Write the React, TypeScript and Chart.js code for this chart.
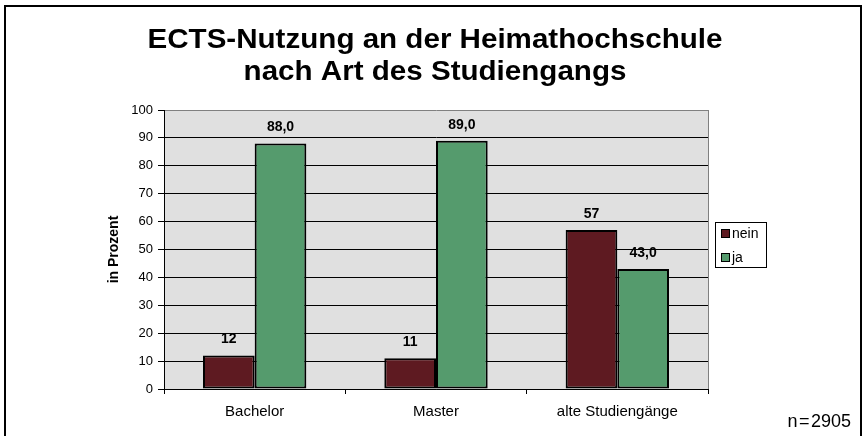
import React, { useEffect, useRef } from "react";
import { Chart, registerables } from "chart.js";

Chart.register(...registerables);

const categories = ["Bachelor", "Master", "alte Studiengänge"];
const seriesNames = ["nein", "ja"];
const neinValues = [12, 11, 57];
const jaValues = [88.0, 89.0, 43.0];
const seriesColors = ["#5e1a21", "#559b6d"];
const yTicks = [0, 10, 20, 30, 40, 50, 60, 70, 80, 90, 100];
const titleLines = ["ECTS-Nutzung an der Heimathochschule", "nach Art des Studiengangs"];
const yAxisTitle = "in Prozent";
const footnote = "n\u200A=\u200A2905";

const FONT = '"Liberation Sans", Arial, Helvetica, sans-serif';

export default function App() {
  const ref = useRef<HTMLCanvasElement | null>(null);

  useEffect(() => {
    const canvas = ref.current;
    if (!canvas) return;

    const decor = {
      id: "decor",
      beforeDraw(chart: any) {
        const { ctx, chartArea } = chart;
        ctx.save();
        ctx.fillStyle = "#ffffff";
        ctx.fillRect(0, 0, chart.width, chart.height);
        // outer frame
        ctx.strokeStyle = "#000";
        ctx.lineWidth = 2;
        ctx.strokeRect(5, 6, 856, 440);
        // plot background
        ctx.fillStyle = "#e0e0e0";
        ctx.fillRect(chartArea.left, chartArea.top, chartArea.right - chartArea.left, chartArea.bottom - chartArea.top);
        ctx.restore();
      },
      afterDraw(chart: any) {
        const { ctx, chartArea } = chart;
        ctx.save();
        // right plot border
        ctx.strokeStyle = "#808080";
        ctx.lineWidth = 1;
        ctx.beginPath();
        ctx.moveTo(Math.round(chartArea.right) + 0.5, chartArea.top);
        ctx.lineTo(Math.round(chartArea.right) + 0.5, chartArea.bottom);
        ctx.stroke();
        // title (slightly widened to match the reference's glyph proportions)
        ctx.fillStyle = "#000";
        ctx.textAlign = "center";
        ctx.textBaseline = "alphabetic";
        ctx.font = `bold 28px ${FONT}`;
        const w1 = ctx.measureText(titleLines[0]).width;
        const sx = w1 > 0 ? 575 / w1 : 1;
        ctx.save();
        ctx.translate(435, 0);
        ctx.scale(sx, 1);
        ctx.fillText(titleLines[0], 0, 48);
        ctx.fillText(titleLines[1], 0, 80);
        ctx.restore();
        // legend
        ctx.lineWidth = 1;
        ctx.strokeStyle = "#000";
        ctx.fillStyle = "#fff";
        ctx.fillRect(715.5, 222.5, 51, 45);
        ctx.strokeRect(715.5, 222.5, 51, 45);
        ctx.font = `14px ${FONT}`;
        ctx.textAlign = "left";
        ctx.textBaseline = "middle";
        const ys = [229, 253];
        seriesNames.forEach((name, i) => {
          ctx.fillStyle = seriesColors[i];
          ctx.fillRect(721.5, ys[i] + 0.5, 8, 8);
          ctx.strokeRect(721.5, ys[i] + 0.5, 8, 8);
          ctx.fillStyle = "#000";
          ctx.fillText(name, 732, ys[i] + 5);
        });
        // footnote
        ctx.font = `18px ${FONT}`;
        ctx.textAlign = "right";
        ctx.textBaseline = "alphabetic";
        ctx.fillText(footnote, 851, 427);
        ctx.restore();
      },
      afterDatasetsDraw(chart: any) {
        const { ctx } = chart;
        ctx.save();
        ctx.fillStyle = "#000";
        ctx.font = `bold 14px ${FONT}`;
        ctx.textAlign = "center";
        ctx.textBaseline = "middle";
        chart.data.datasets.forEach((ds: any, di: number) => {
          const meta = chart.getDatasetMeta(di);
          meta.data.forEach((el: any, i: number) => {
            const v = ds.data[i] as number;
            const txt = di === 0 ? String(Math.round(v)) : v.toFixed(1).replace(".", ",");
            ctx.fillText(txt, el.x, el.y - 16);
          });
        });
        ctx.restore();
      },
    };

    const chart = new Chart(canvas, {
      type: "bar",
      data: {
        labels: categories,
        datasets: [
          {
            label: seriesNames[0],
            data: neinValues,
            backgroundColor: seriesColors[0],
            borderColor: "#000",
            borderWidth: 2,
            borderSkipped: false,
          },
          {
            label: seriesNames[1],
            data: jaValues,
            backgroundColor: seriesColors[1],
            borderColor: "#000",
            borderWidth: 2,
            borderSkipped: false,
          },
        ],
      },
      options: {
        responsive: false,
        animation: false,
        devicePixelRatio: 1,
        layout: { padding: { top: 110, left: 102, right: 158, bottom: 17 } },
        datasets: { bar: { categoryPercentage: 0.57, barPercentage: 1.0 } },
        plugins: {
          legend: { display: false },
          title: { display: false },
          tooltip: { enabled: false },
        },
        scales: {
          x: {
            afterFit: (s: any) => {
              s.height = 30;
            },
            grid: {
              drawOnChartArea: false,
              drawTicks: true,
              tickLength: 5,
              color: "#000",
              offset: true,
            },
            border: { color: "#000", width: 1 },
            ticks: { color: "#000", padding: 9, font: { family: FONT, size: 15 } },
          },
          y: {
            min: 0,
            max: 100,
            afterFit: (s: any) => {
              s.width = 62;
            },
            afterBuildTicks: (s: any) => {
              s.ticks = yTicks.map((v) => ({ value: v }));
            },
            grid: {
              color: (c: any) => (c.tick && c.tick.value === 100 ? "#808080" : "#000"),
              tickColor: "#000",
              tickLength: 6,
              lineWidth: 1,
            },
            border: { color: "#000", width: 1 },
            ticks: { color: "#000", padding: 5, font: { family: FONT, size: 13 } },
            title: {
              display: true,
              text: yAxisTitle,
              color: "#000",
              font: { family: FONT, size: 14, weight: "bold" },
              padding: { top: 4, bottom: 4 },
            },
          },
        },
      },
      plugins: [decor],
    });

    return () => chart.destroy();
  }, []);

  return (
    <div style={{ position: "absolute", left: 0, top: 0, width: 866, height: 436, background: "#fff" }}>
      <canvas ref={ref} width={866} height={436} style={{ display: "block", width: 866, height: 436 }} />
    </div>
  );
}
